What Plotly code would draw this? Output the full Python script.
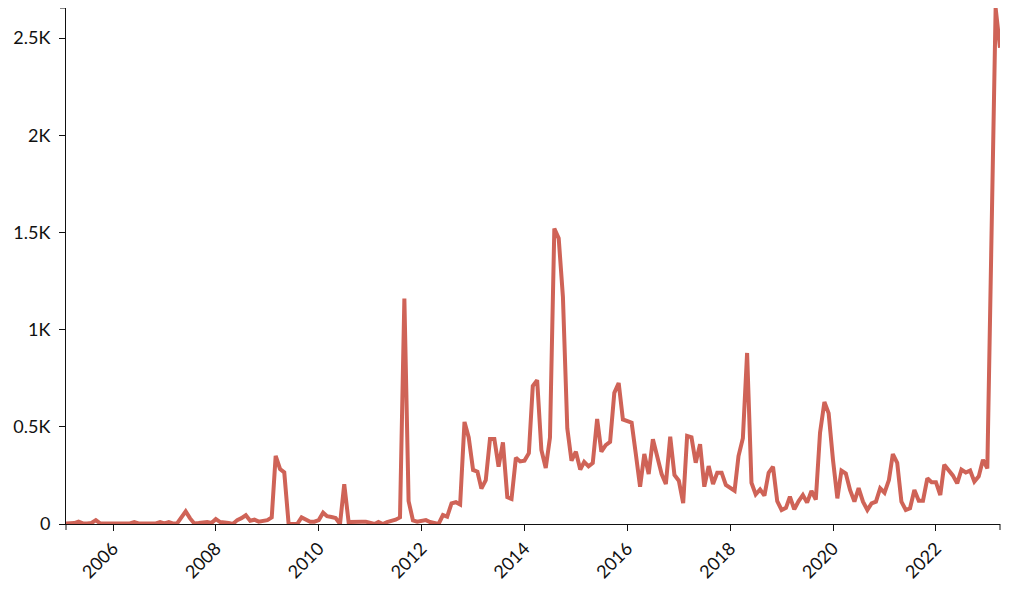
import pandas as pd
import plotly.graph_objects as go

# Monthly series, Feb 2005 .. Apr 2023 (Feb 2023 missing)
start_month = "2005-02-01"
end_month = "2023-04-01"
values = [
    3, 3, 5, 12, 3, 3, 5, 20, 3, 3,            # 2005-02 .. 2005-11
    3, 3, 3, 3, 3, 3, 10, 3, 3, 3,             # 2005-12 .. 2006-09
    3, 3, 10, 3, 10, 3, 3, 30, 65, 30,         # 2006-10 .. 2007-07
    3, 5, 10, 10, 5, 25, 10, 10, 5, 0,         # 2007-08 .. 2008-05
    20, 30, 45, 17, 22, 12, 17, 20, 34, 350,   # 2008-06 .. 2009-03
    283, 266, 0, 0, 0, 34, 22, 12, 12, 20,     # 2009-04 .. 2010-01
    58, 40, 36, 31, 0, 205, 10, 12, 12, 12,    # 2010-02 .. 2010-11
    12, 8, 0, 10, 0, 10, 15, 22, 34, 1160,     # 2010-12 .. 2011-09
    118, 18, 12, 15, 20, 10, 3, 0, 46, 38,     # 2011-10 .. 2012-07
    106, 112, 100, 525, 445, 278, 269, 182, 226, 437,   # 2012-08 .. 2013-05
    437, 295, 420, 138, 129, 341, 322, 326, 364, 710,   # 2013-06 .. 2014-03
    740, 381, 288, 445, 1520, 1470, 1169, 492, 326, 372, # 2014-04 .. 2015-01
    280, 320, 297, 314, 540, 372, 406, 422, 675, 725,   # 2015-02 .. 2015-11
    538, 530, 521, 364, 192, 360, 257, 436, 346, 257,   # 2015-12 .. 2016-09
    206, 449, 252, 223, 108, 453, 446, 315, 411, 192,   # 2016-10 .. 2017-07
    298, 206, 264, 264, 201, 184, 171, 350, 441, 880,   # 2017-08 .. 2018-05
    212, 152, 178, 146, 264, 295, 117, 72, 83, 141,     # 2018-06 .. 2019-03
    75, 117, 149, 110, 170, 125, 470, 628, 570, 329,    # 2019-04 .. 2020-01
    132, 275, 260, 175, 115, 185, 115, 72, 106, 115,    # 2020-02 .. 2020-11
    184, 161, 226, 360, 315, 115, 72, 81, 175, 120,     # 2020-12 .. 2021-09
    120, 235, 215, 215, 149, 305, 280, 250, 209, 280,   # 2021-10 .. 2022-07
    265, 275, 218, 245, 330, 286, None, 2655, 2450,     # 2022-08 .. 2023-04
]
months = pd.date_range(start_month, end_month, freq="MS")

tick_vals = [f"{y}-01-01" for y in range(2006, 2023, 2)]
tick_text = [str(y) for y in range(2006, 2023, 2)]
y_tick_vals = [0, 500, 1000, 1500, 2000, 2500]
y_tick_text = ["0", "0.5K", "1K", "1.5K", "2K", "2.5K"]

line_color = "#cf6357"
axis_color = "#111111"
ymax = max(v for v in values if v is not None)

fig = go.Figure()
fig.add_trace(go.Scatter(
    x=months, y=values, mode="lines", connectgaps=True,
    line=dict(color=line_color, width=4),
    hoverinfo="skip", showlegend=False,
))

font = dict(family="Lato, sans-serif", size=18, color="#111111")

fig.update_layout(
    width=1024, height=594,
    margin=dict(l=58, r=32, t=0, b=78, autoexpand=False),
    plot_bgcolor="white", paper_bgcolor="white",
    font=font,
    xaxis=dict(
        range=[months[0], months[-1]],
        tickvals=tick_vals, ticktext=tick_text, tickangle=-45,
        showgrid=False, zeroline=False,
        showline=True, linecolor=axis_color, linewidth=1,
        ticks="outside", ticklen=6, tickcolor=axis_color, tickwidth=1,
        tickfont=font, automargin=False,
    ),
    yaxis=dict(
        range=[0, ymax],
        tickvals=y_tick_vals, ticktext=y_tick_text,
        showgrid=False, zeroline=False,
        showline=True, linecolor=axis_color, linewidth=1,
        ticks="outside", ticklen=6, tickcolor=axis_color, tickwidth=1,
        tickfont=font, ticklabelstandoff=5, automargin=False,
    ),
)

# outer ticks at the ends of the axis domains (D3-style)
for xp in (0, 1):
    fig.add_shape(type="line", xref="paper", yref="paper",
                  x0=xp, x1=xp, ysizemode="pixel", yanchor=0, y0=0, y1=-6,
                  line=dict(color=axis_color, width=1))
fig.add_shape(type="line", xref="paper", yref="paper",
              y0=1, y1=1, xsizemode="pixel", xanchor=0, x0=-6, x1=0,
              line=dict(color=axis_color, width=1))

fig.write_html("out.html")
